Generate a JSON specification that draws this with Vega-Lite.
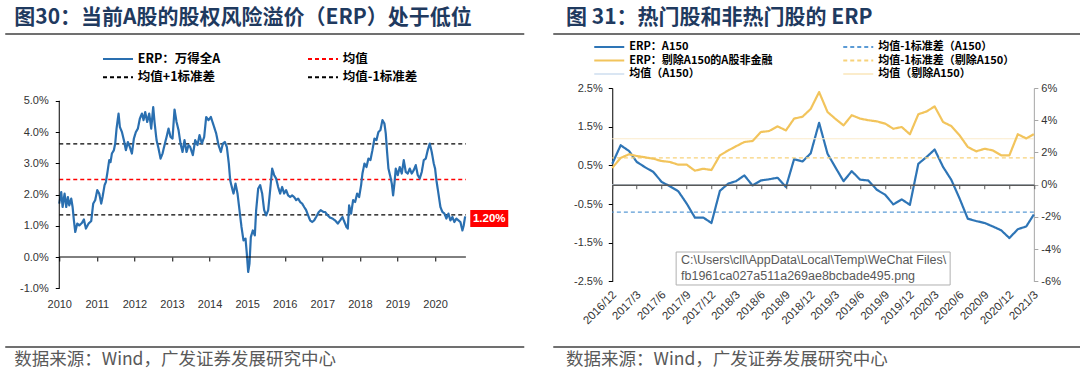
{
"$schema": "https://vega.github.io/schema/vega-lite/v6.json",
"background": "white",
"padding": {"left": 4.25, "top": 6, "right": 0, "bottom": 6},
"config": {
  "view": {"stroke": null},
  "font": "Liberation Sans",
  "locale": {"number": {"decimal": ".", "thousands": ",", "grouping": [3], "currency": ["$", ""], "minus": "-"}},
  "axis": {"labelFont": "Liberation Sans", "labelFontSize": 11, "labelColor": "#333333", "grid": false, "labelOverlap": false, "labelFlush": false}
},
"datasets": {
  "one": [{}],
  "refA": [
    {"s1": "均值", "v": 2.48, "a": 2010, "b": 2020.82},
    {"s1": "均值+1标准差", "v": 3.62, "a": 2010, "b": 2020.82},
    {"s1": "均值-1标准差", "v": 1.35, "a": 2010, "b": 2020.82}
  ],
  "erp": [
    {"t":2010.000,"v":1.71},{"t":2010.053,"v":2.08},{"t":2010.089,"v":1.60},{"t":2010.142,"v":2.03},{"t":2010.186,"v":1.60},
    {"t":2010.230,"v":1.92},{"t":2010.266,"v":1.65},{"t":2010.319,"v":1.87},{"t":2010.355,"v":1.60},{"t":2010.390,"v":1.17},
    {"t":2010.426,"v":0.80},{"t":2010.479,"v":1.07},{"t":2010.532,"v":1.01},{"t":2010.603,"v":1.09},{"t":2010.656,"v":1.20},
    {"t":2010.709,"v":0.91},{"t":2010.780,"v":1.07},{"t":2010.851,"v":1.15},{"t":2010.904,"v":1.71},{"t":2010.957,"v":1.82},
    {"t":2011.011,"v":2.14},{"t":2011.064,"v":2.03},{"t":2011.117,"v":1.71},{"t":2011.152,"v":1.92},{"t":2011.206,"v":2.30},
    {"t":2011.241,"v":2.40},{"t":2011.277,"v":2.67},{"t":2011.330,"v":3.10},{"t":2011.365,"v":3.04},{"t":2011.401,"v":3.31},
    {"t":2011.454,"v":3.42},{"t":2011.489,"v":3.63},{"t":2011.525,"v":4.11},{"t":2011.578,"v":4.59},{"t":2011.613,"v":4.16},
    {"t":2011.667,"v":4.00},{"t":2011.720,"v":3.74},{"t":2011.773,"v":3.42},{"t":2011.826,"v":3.68},{"t":2011.879,"v":3.52},
    {"t":2011.933,"v":3.31},{"t":2011.986,"v":3.79},{"t":2012.039,"v":4.00},{"t":2012.092,"v":4.11},{"t":2012.145,"v":4.43},
    {"t":2012.199,"v":4.59},{"t":2012.243,"v":4.38},{"t":2012.287,"v":4.64},{"t":2012.340,"v":4.32},{"t":2012.394,"v":4.59},
    {"t":2012.447,"v":4.11},{"t":2012.500,"v":4.80},{"t":2012.535,"v":4.32},{"t":2012.589,"v":3.74},{"t":2012.642,"v":3.47},
    {"t":2012.695,"v":3.15},{"t":2012.748,"v":3.31},{"t":2012.801,"v":3.58},{"t":2012.855,"v":3.84},{"t":2012.908,"v":4.11},
    {"t":2012.961,"v":3.84},{"t":2013.014,"v":3.79},{"t":2013.067,"v":4.72},{"t":2013.121,"v":4.32},{"t":2013.174,"v":4.06},
    {"t":2013.227,"v":3.63},{"t":2013.280,"v":3.36},{"t":2013.333,"v":3.74},{"t":2013.387,"v":3.36},{"t":2013.440,"v":3.58},
    {"t":2013.484,"v":3.52},{"t":2013.555,"v":3.26},{"t":2013.617,"v":3.74},{"t":2013.679,"v":3.58},{"t":2013.732,"v":3.90},
    {"t":2013.794,"v":3.63},{"t":2013.856,"v":3.84},{"t":2013.910,"v":4.48},{"t":2013.972,"v":4.38},{"t":2014.034,"v":4.48},
    {"t":2014.105,"v":4.22},{"t":2014.176,"v":3.95},{"t":2014.238,"v":3.58},{"t":2014.300,"v":3.36},{"t":2014.353,"v":3.63},
    {"t":2014.406,"v":3.68},{"t":2014.459,"v":3.52},{"t":2014.512,"v":2.99},{"t":2014.548,"v":2.46},{"t":2014.601,"v":2.19},
    {"t":2014.637,"v":2.03},{"t":2014.690,"v":2.35},{"t":2014.743,"v":2.03},{"t":2014.796,"v":1.50},{"t":2014.849,"v":0.96},
    {"t":2014.902,"v":0.53},{"t":2014.956,"v":0.59},{"t":2014.991,"v":0.11},{"t":2015.027,"v":-0.48},{"t":2015.062,"v":-0.21},
    {"t":2015.098,"v":0.64},{"t":2015.151,"v":0.85},{"t":2015.204,"v":0.69},{"t":2015.239,"v":1.50},{"t":2015.293,"v":2.19},
    {"t":2015.346,"v":2.30},{"t":2015.399,"v":2.03},{"t":2015.452,"v":1.50},{"t":2015.505,"v":1.33},{"t":2015.559,"v":1.50},
    {"t":2015.612,"v":2.14},{"t":2015.665,"v":2.83},{"t":2015.718,"v":2.62},{"t":2015.771,"v":2.51},{"t":2015.824,"v":2.24},
    {"t":2015.878,"v":2.03},{"t":2015.931,"v":2.24},{"t":2015.984,"v":2.03},{"t":2016.037,"v":2.14},{"t":2016.090,"v":1.97},
    {"t":2016.144,"v":1.92},{"t":2016.197,"v":1.97},{"t":2016.250,"v":1.92},{"t":2016.303,"v":1.82},{"t":2016.356,"v":1.87},
    {"t":2016.410,"v":1.76},{"t":2016.463,"v":1.71},{"t":2016.516,"v":1.60},{"t":2016.569,"v":1.50},{"t":2016.622,"v":1.33},
    {"t":2016.676,"v":1.17},{"t":2016.729,"v":1.12},{"t":2016.782,"v":1.17},{"t":2016.835,"v":1.28},{"t":2016.906,"v":1.44},
    {"t":2016.959,"v":1.50},{"t":2017.030,"v":1.44},{"t":2017.074,"v":1.44},{"t":2017.145,"v":1.33},{"t":2017.207,"v":1.26},
    {"t":2017.270,"v":1.23},{"t":2017.340,"v":1.17},{"t":2017.411,"v":1.07},{"t":2017.473,"v":1.17},{"t":2017.535,"v":1.28},
    {"t":2017.589,"v":1.12},{"t":2017.642,"v":0.96},{"t":2017.677,"v":0.91},{"t":2017.713,"v":1.65},{"t":2017.766,"v":1.39},
    {"t":2017.819,"v":1.82},{"t":2017.872,"v":1.76},{"t":2017.926,"v":2.03},{"t":2017.979,"v":1.92},{"t":2018.032,"v":2.30},
    {"t":2018.067,"v":2.67},{"t":2018.121,"v":2.99},{"t":2018.174,"v":2.88},{"t":2018.227,"v":3.15},{"t":2018.280,"v":3.10},
    {"t":2018.333,"v":3.42},{"t":2018.387,"v":3.79},{"t":2018.440,"v":3.74},{"t":2018.493,"v":4.00},{"t":2018.546,"v":4.06},
    {"t":2018.599,"v":4.38},{"t":2018.652,"v":4.27},{"t":2018.688,"v":3.95},{"t":2018.723,"v":3.36},{"t":2018.759,"v":2.83},
    {"t":2018.812,"v":2.56},{"t":2018.848,"v":2.35},{"t":2018.883,"v":1.97},{"t":2018.918,"v":2.35},{"t":2018.954,"v":2.83},
    {"t":2019.007,"v":2.62},{"t":2019.060,"v":2.88},{"t":2019.113,"v":2.67},{"t":2019.167,"v":3.10},{"t":2019.220,"v":2.72},
    {"t":2019.273,"v":2.67},{"t":2019.326,"v":2.83},{"t":2019.379,"v":2.67},{"t":2019.433,"v":2.78},{"t":2019.486,"v":2.94},
    {"t":2019.539,"v":2.62},{"t":2019.592,"v":2.51},{"t":2019.645,"v":2.72},{"t":2019.699,"v":3.10},{"t":2019.752,"v":3.15},
    {"t":2019.805,"v":3.42},{"t":2019.858,"v":3.63},{"t":2019.911,"v":3.36},{"t":2019.965,"v":2.99},{"t":2020.000,"v":2.83},
    {"t":2020.035,"v":2.46},{"t":2020.089,"v":2.03},{"t":2020.142,"v":1.60},{"t":2020.195,"v":1.44},{"t":2020.248,"v":1.39},
    {"t":2020.301,"v":1.23},{"t":2020.355,"v":1.39},{"t":2020.408,"v":1.17},{"t":2020.461,"v":1.28},{"t":2020.514,"v":1.12},
    {"t":2020.567,"v":1.23},{"t":2020.621,"v":1.17},{"t":2020.674,"v":1.12},{"t":2020.727,"v":0.85},{"t":2020.760,"v":1.00},
    {"t":2020.800,"v":1.30}
  ],
  "hot": [
    {"d":"2016/12/01","a150":0.54,"ex":1.04},{"d":"2017/01/01","a150":1.02,"ex":1.66},{"d":"2017/02/01","a150":0.87,"ex":1.89},
    {"d":"2017/03/01","a150":0.59,"ex":1.78},{"d":"2017/04/01","a150":0.45,"ex":1.70},{"d":"2017/05/01","a150":0.33,"ex":1.61},
    {"d":"2017/06/01","a150":0.07,"ex":1.47},{"d":"2017/07/01","a150":-0.04,"ex":1.41},{"d":"2017/08/01","a150":-0.17,"ex":1.24},
    {"d":"2017/09/01","a150":-0.49,"ex":1.24},{"d":"2017/10/01","a150":-0.85,"ex":0.87},{"d":"2017/11/01","a150":-0.85,"ex":0.99},
    {"d":"2017/12/01","a150":-0.99,"ex":0.91},{"d":"2018/01/01","a150":-0.16,"ex":1.82},{"d":"2018/02/01","a150":0.03,"ex":2.13},
    {"d":"2018/03/01","a150":0.09,"ex":2.38},{"d":"2018/04/01","a150":0.24,"ex":2.65},{"d":"2018/05/01","a150":-0.02,"ex":2.71},
    {"d":"2018/06/01","a150":0.11,"ex":3.27},{"d":"2018/07/01","a150":0.14,"ex":3.33},{"d":"2018/08/01","a150":0.18,"ex":3.62},
    {"d":"2018/09/01","a150":-0.06,"ex":3.37},{"d":"2018/10/01","a150":0.66,"ex":4.10},{"d":"2018/11/01","a150":0.60,"ex":4.22},
    {"d":"2018/12/01","a150":0.81,"ex":4.70},{"d":"2019/01/01","a150":1.60,"ex":5.75},{"d":"2019/02/01","a150":0.80,"ex":4.51},
    {"d":"2019/03/01","a150":0.46,"ex":4.10},{"d":"2019/04/01","a150":0.09,"ex":3.68},{"d":"2019/05/01","a150":0.35,"ex":4.31},
    {"d":"2019/06/01","a150":0.13,"ex":4.10},{"d":"2019/07/01","a150":0.11,"ex":4.00},{"d":"2019/08/01","a150":-0.13,"ex":3.93},
    {"d":"2019/09/01","a150":-0.26,"ex":3.79},{"d":"2019/10/01","a150":-0.51,"ex":3.47},{"d":"2019/11/01","a150":-0.38,"ex":3.58},
    {"d":"2019/12/01","a150":-0.52,"ex":3.13},{"d":"2020/01/01","a150":0.54,"ex":4.37},{"d":"2020/02/01","a150":0.72,"ex":4.55},
    {"d":"2020/03/01","a150":0.91,"ex":4.86},{"d":"2020/04/01","a150":0.46,"ex":3.89},{"d":"2020/05/01","a150":0.13,"ex":3.64},
    {"d":"2020/06/01","a150":-0.36,"ex":3.06},{"d":"2020/07/01","a150":-0.88,"ex":2.34},{"d":"2020/08/01","a150":-0.94,"ex":2.07},
    {"d":"2020/09/01","a150":-0.99,"ex":2.23},{"d":"2020/10/01","a150":-1.08,"ex":2.13},{"d":"2020/11/01","a150":-1.18,"ex":1.82},
    {"d":"2020/12/01","a150":-1.38,"ex":1.82},{"d":"2021/01/01","a150":-1.15,"ex":3.13},{"d":"2021/02/01","a150":-1.08,"ex":2.87},
    {"d":"2021/03/01","a150":-0.77,"ex":3.14}
  ],
  "refB1": [
    {"s2": "均值-1标准差（A150）", "v": -0.71},
    {"s2": "均值（A150）", "v": 0}
  ],
  "refB2": [
    {"s2": "均值-1标准差（剔除A150）", "v": 1.66},
    {"s2": "均值（剔除A150）", "v": 2.85}
  ]
},
"bounds": "flush",
"spacing": 102,
"resolve": {"scale": {"color": "independent", "strokeDash": "independent"}},
"hconcat": [
{
  "width": 451,
  "height": 200.25,
  "layer": [
    {
      "data": {"name": "refA"},
      "mark": {"type": "rule", "strokeWidth": 1.3},
      "encoding": {
        "x": {"field": "a", "type": "quantitative", "scale": {"domain": [2010, 2022], "nice": false, "zero": false}},
        "x2": {"field": "b"},
        "y": {"field": "v", "type": "quantitative", "scale": {"domain": [-1, 5.408], "nice": false, "zero": false}},
        "color": {"field": "s1", "type": "nominal",
          "scale": {"domain": ["ERP：万得全A", "均值", "均值+1标准差", "均值-1标准差"], "range": ["#2a6fb0", "#ff0000", "#000000", "#000000"]},
          "legend": {"orient": "none", "legendX": 52.5, "legendY": -35.5, "columns": 2, "direction": "horizontal", "title": null, "symbolType": "M-3,0H3", "symbolSize": 100, "symbolStrokeWidth": 2, "labelFont": "Noto Sans CJK SC", "labelFontSize": 12.5, "labelFontWeight": "bold", "labelColor": "#000000", "labelOffset": 13.5, "columnPadding": 83, "rowPadding": 5.5, "padding": 0, "labelLimit": 300}},
        "strokeDash": {"field": "s1", "type": "nominal",
          "scale": {"domain": ["ERP：万得全A", "均值", "均值+1标准差", "均值-1标准差"], "range": [[1, 0], [4, 3], [4, 3], [4, 3]]},
          "legend": {"orient": "none", "legendX": 52.5, "legendY": -35.5, "columns": 2, "direction": "horizontal", "title": null, "symbolType": "M-3,0H3", "symbolSize": 100, "symbolStrokeWidth": 2, "labelFont": "Noto Sans CJK SC", "labelFontSize": 12.5, "labelFontWeight": "bold", "labelColor": "#000000", "labelOffset": 13.5, "columnPadding": 83, "rowPadding": 5.5, "padding": 0, "labelLimit": 300}}
      }
    },
    {
      "data": {"name": "erp"},
      "mark": {"type": "line", "strokeWidth": 2.2, "strokeJoin": "round"},
      "encoding": {
        "x": {"field": "t", "type": "quantitative",
          "axis": {"offset": -31.25, "domain": false, "ticks": true, "tickSize": 4, "tickColor": "#000000", "tickCount": 100, "values": [2010, 2011, 2012, 2013, 2014, 2015, 2016, 2017, 2018, 2019, 2020], "format": "d", "labelPadding": 37, "labelFlush": false, "labelOverlap": false, "title": null}},
        "y": {"field": "v", "type": "quantitative",
          "axis": {"domain": false, "tickCount": 100, "values": [-1, 0, 1, 2, 3, 4, 5], "labelExpr": "format(datum.value, '.1f') + '%'", "tickSize": 4, "tickColor": "#000000", "labelPadding": 7, "labelOverlap": false, "title": null}},
        "color": {"datum": "ERP：万得全A", "type": "nominal"},
        "strokeDash": {"datum": "ERP：万得全A", "type": "nominal"}
      }
    },
    {
      "data": {"name": "one"},
      "mark": {"type": "rule", "color": "#000000", "strokeWidth": 1},
      "encoding": {"x": {"datum": 2010}, "x2": {"datum": 2020.82}, "y": {"datum": 0}}
    },
    {
      "data": {"name": "one"},
      "mark": {"type": "rule", "color": "#000000", "strokeWidth": 1},
      "encoding": {"x": {"datum": 2010}, "y": {"datum": -1}, "y2": {"datum": 5}}
    },
    {
      "data": {"name": "one"},
      "mark": {"type": "rect", "color": "#ff0000"},
      "encoding": {"x": {"datum": 2020.936}, "x2": {"datum": 2021.947}, "y": {"datum": 1.504}, "y2": {"datum": 0.96}}
    },
    {
      "data": {"name": "one"},
      "mark": {"type": "text", "color": "#ffffff", "fontWeight": "bold", "fontSize": 11.5, "font": "Liberation Sans", "align": "center", "baseline": "middle"},
      "encoding": {"x": {"datum": 2021.441}, "y": {"datum": 1.232}, "text": {"value": "1.20%"}}
    },
    {
      "data": {"name": "one"},
      "mark": {"type": "text", "color": "#1f3a5f", "fontWeight": "bold", "fontSize": 21, "font": "Noto Sans CJK SC", "align": "left", "baseline": "middle"},
      "encoding": {"x": {"datum": 2008.803}, "y": {"datum": 7.648}, "text": {"value": "图30：当前A股的股权风险溢价（ERP）处于低位"}}
    },
    {
      "data": {"name": "one"},
      "mark": {"type": "rule", "color": "#404040", "strokeWidth": 1.5},
      "encoding": {"x": {"datum": 2008.563}, "x2": {"datum": 2022.373}, "y": {"datum": 7.136}}
    },
    {
      "data": {"name": "one"},
      "mark": {"type": "rule", "color": "#404040", "strokeWidth": 1.5},
      "encoding": {"x": {"datum": 2008.563}, "x2": {"datum": 2022.373}, "y": {"datum": -2.88}}
    },
    {
      "data": {"name": "one"},
      "mark": {"type": "text", "color": "#595959", "fontSize": 17.5, "font": "Noto Sans CJK SC", "align": "left", "baseline": "middle"},
      "encoding": {"x": {"datum": 2008.803}, "y": {"datum": -3.296}, "text": {"value": "数据来源：Wind，广发证券发展研究中心"}}
    }
  ]
},
{
  "width": 421.6,
  "height": 193.4,
  "layer": [
    {
      "layer": [
        {
          "data": {"name": "refB1"},
          "mark": {"type": "rule", "strokeWidth": 1.2},
          "encoding": {
            "y": {"field": "v", "type": "quantitative", "scale": {"domain": [-2.5, 2.5], "nice": false, "zero": false}},
            "color": {"field": "s2", "type": "nominal",
              "scale": {"domain": ["ERP：A150", "均值-1标准差（A150）", "ERP：剔除A150的A股非金融", "均值-1标准差（剔除A150）", "均值（A150）", "均值（剔除A150）"], "range": ["#2e75b6", "#5b9bd5", "#f2c45c", "#f7d27a", "#dae6f3", "#fbeccb"]},
              "legend": {"orient": "none", "legendX": -9, "legendY": -47, "columns": 2, "direction": "horizontal", "title": null, "symbolType": "M-3,0H3", "symbolSize": 100, "symbolStrokeWidth": 2, "labelFont": "Noto Sans CJK SC", "labelFontSize": 11, "labelFontWeight": "bold", "labelColor": "#000000", "labelOffset": 14, "columnPadding": 66, "rowPadding": 2.5, "padding": 0, "labelLimit": 300}},
            "strokeDash": {"field": "s2", "type": "nominal",
              "scale": {"domain": ["ERP：A150", "均值-1标准差（A150）", "ERP：剔除A150的A股非金融", "均值-1标准差（剔除A150）", "均值（A150）", "均值（剔除A150）"], "range": [[1, 0], [4, 3], [1, 0], [4, 3], [1, 0], [1, 0]]},
              "legend": {"orient": "none", "legendX": -9, "legendY": -47, "columns": 2, "direction": "horizontal", "title": null, "symbolType": "M-3,0H3", "symbolSize": 100, "symbolStrokeWidth": 2, "labelFont": "Noto Sans CJK SC", "labelFontSize": 11, "labelFontWeight": "bold", "labelColor": "#000000", "labelOffset": 14, "columnPadding": 66, "rowPadding": 2.5, "padding": 0, "labelLimit": 300}}
          }
        },
        {
          "data": {"name": "hot"},
          "mark": {"type": "line", "strokeWidth": 2.2, "strokeJoin": "round"},
          "encoding": {
            "x": {"field": "d", "type": "temporal",
              "scale": {"domain": [{"year": 2016, "month": 12, "date": 1}, {"year": 2021, "month": 3, "date": 1}], "nice": false},
              "axis": {"offset": -96.7, "domain": true, "domainColor": "#595959", "domainWidth": 1.5, "ticks": true, "tickColor": "#595959", "tickSize": 4, "zindex": 1, "tickCount": 100,
                "values": [{"year": 2016, "month": 12, "date": 1}, {"year": 2017, "month": 3, "date": 1}, {"year": 2017, "month": 6, "date": 1}, {"year": 2017, "month": 9, "date": 1}, {"year": 2017, "month": 12, "date": 1}, {"year": 2018, "month": 3, "date": 1}, {"year": 2018, "month": 6, "date": 1}, {"year": 2018, "month": 9, "date": 1}, {"year": 2018, "month": 12, "date": 1}, {"year": 2019, "month": 3, "date": 1}, {"year": 2019, "month": 6, "date": 1}, {"year": 2019, "month": 9, "date": 1}, {"year": 2019, "month": 12, "date": 1}, {"year": 2020, "month": 3, "date": 1}, {"year": 2020, "month": 6, "date": 1}, {"year": 2020, "month": 9, "date": 1}, {"year": 2020, "month": 12, "date": 1}, {"year": 2021, "month": 3, "date": 1}],
                "format": "%Y/%-m", "labelAngle": -45, "labelAlign": "right", "labelBaseline": "top", "labelPadding": 100, "labelOffset": -2, "labelFontSize": 11.5, "labelFlush": false, "labelOverlap": false, "title": null}},
            "y": {"field": "a150", "type": "quantitative",
              "axis": {"tickCount": 100, "values": [-2.5, -1.5, -0.5, 0.5, 1.5, 2.5], "labelExpr": "format(datum.value, '.1f') + '%'", "domainColor": "#000000", "tickColor": "#000000", "tickSize": 4, "labelPadding": 6, "labelOverlap": false, "title": null}},
            "color": {"datum": "ERP：A150", "type": "nominal"},
            "strokeDash": {"datum": "ERP：A150", "type": "nominal"}
          }
        },
        {
          "data": {"name": "one"},
          "mark": {"type": "text", "color": "#1f3a5f", "fontWeight": "bold", "fontSize": 21, "font": "Noto Sans CJK SC", "align": "left", "baseline": "middle"},
          "encoding": {"x": {"datum": {"year": 2016, "month": 6, "date": 14}, "type": "temporal"}, "y": {"datum": 4.31}, "text": {"value": "图 31：热门股和非热门股的 ERP"}}
        },
        {
          "data": {"name": "one"},
          "mark": {"type": "rule", "color": "#404040", "strokeWidth": 1.5},
          "encoding": {"x": {"datum": {"year": 2016, "month": 4, "date": 28}, "type": "temporal"}, "x2": {"datum": {"year": 2021, "month": 8, "date": 19}}, "y": {"datum": 3.896}}
        },
        {
          "data": {"name": "one"},
          "mark": {"type": "rule", "color": "#404040", "strokeWidth": 1.5},
          "encoding": {"x": {"datum": {"year": 2016, "month": 4, "date": 28}, "type": "temporal"}, "x2": {"datum": {"year": 2021, "month": 8, "date": 19}}, "y": {"datum": -4.196}}
        },
        {
          "data": {"name": "one"},
          "mark": {"type": "text", "color": "#595959", "fontSize": 17.5, "font": "Noto Sans CJK SC", "align": "left", "baseline": "middle"},
          "encoding": {"x": {"datum": {"year": 2016, "month": 6, "date": 14}, "type": "temporal"}, "y": {"datum": -4.532}, "text": {"value": "数据来源：Wind，广发证券发展研究中心"}}
        },
        {
          "data": {"name": "one"},
          "mark": {"type": "rect", "fill": "#ffffff", "stroke": "#b0b0b0", "strokeWidth": 1},
          "encoding": {"x": {"datum": {"year": 2017, "month": 7, "date": 24}, "type": "temporal"}, "x2": {"datum": {"year": 2020, "month": 4, "date": 27}}, "y": {"datum": -1.74}, "y2": {"datum": -2.593}}
        },
        {
          "data": {"name": "one"},
          "mark": {"type": "text", "color": "#595959", "fontSize": 12.5, "font": "Liberation Sans", "align": "left", "baseline": "middle"},
          "encoding": {"x": {"datum": {"year": 2017, "month": 8, "date": 11}, "type": "temporal"}, "y": {"datum": -1.947}, "text": {"value": "C:\\Users\\cll\\AppData\\Local\\Temp\\WeChat Files\\"}}
        },
        {
          "data": {"name": "one"},
          "mark": {"type": "text", "color": "#595959", "fontSize": 12.5, "font": "Liberation Sans", "align": "left", "baseline": "middle"},
          "encoding": {"x": {"datum": {"year": 2017, "month": 8, "date": 11}, "type": "temporal"}, "y": {"datum": -2.36}, "text": {"value": "fb1961ca027a511a269ae8bcbade495.png"}}
        }
      ]
    },
    {
      "layer": [
        {
          "data": {"name": "refB2"},
          "mark": {"type": "rule", "strokeWidth": 1.2},
          "encoding": {
            "y": {"field": "v", "type": "quantitative", "scale": {"domain": [-6, 6], "nice": false, "zero": false}},
            "color": {"field": "s2", "type": "nominal"},
            "strokeDash": {"field": "s2", "type": "nominal"}
          }
        },
        {
          "data": {"name": "hot"},
          "mark": {"type": "line", "strokeWidth": 2.2, "strokeJoin": "round"},
          "encoding": {
            "x": {"field": "d", "type": "temporal"},
            "y": {"field": "ex", "type": "quantitative",
              "axis": {"orient": "right", "tickCount": 100, "values": [-6, -4, -2, 0, 2, 4, 6], "labelExpr": "format(datum.value, 'd') + '%'", "domainColor": "#a6a6a6", "tickColor": "#a6a6a6", "tickSize": 4, "labelPadding": 3, "labelOverlap": false, "title": null}},
            "color": {"datum": "ERP：剔除A150的A股非金融", "type": "nominal"},
            "strokeDash": {"datum": "ERP：剔除A150的A股非金融", "type": "nominal"}
          }
        }
      ]
    }
  ],
  "resolve": {"scale": {"y": "independent"}}
}
]
}
